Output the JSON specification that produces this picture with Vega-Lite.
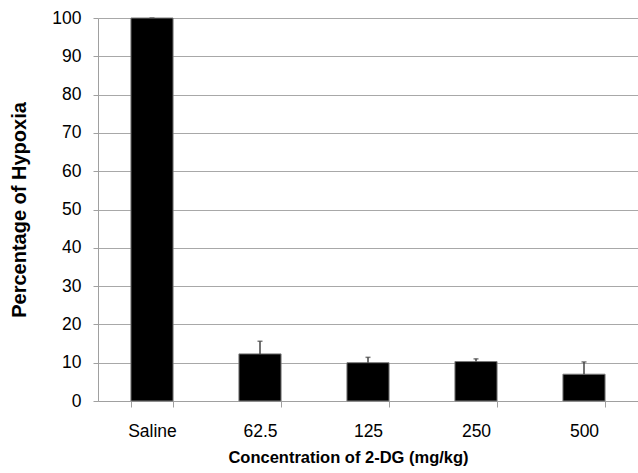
{
  "$schema": "https://vega.github.io/schema/vega-lite/v6.json",
  "autosize": "none",
  "width": 540,
  "height": 383,
  "padding": {"left": 98, "top": 18, "right": 0, "bottom": 72},
  "background": "white",
  "config": {
    "font": "Liberation Sans",
    "view": {"stroke": null},
    "axisY": {
      "titleFont": "Liberation Sans", "titleFontSize": 20, "titleFontWeight": "bold", "titleColor": "#000",
      "titlePadding": 22,
      "tickCount": 11,
      "labelOverlap": false,
      "labelFont": "Liberation Sans", "labelFontSize": 17.5, "labelColor": "#000", "labelPadding": 12,
      "domainColor": "#a0a0a0", "tickColor": "#a0a0a0", "tickSize": 5,
      "grid": true, "gridColor": "#a8a8a8", "gridWidth": 1
    }
  },
  "data": {
    "values": [
      {"conc": "Saline", "pct": 100, "err": 100},
      {"conc": "62.5", "pct": 12.3, "err": 15.6},
      {"conc": "125", "pct": 10.0, "err": 11.4},
      {"conc": "250", "pct": 10.3, "err": 11.0},
      {"conc": "500", "pct": 7.0, "err": 10.2}
    ]
  },
  "encoding": {
    "x": {
      "field": "conc", "type": "nominal", "sort": null,
      "scale": {"paddingInner": 0.61, "paddingOuter": 0.305},
      "axis": {
        "title": "Concentration of 2-DG (mg/kg)",
        "titleFont": "Liberation Sans", "titleFontSize": 16.5, "titleFontWeight": "bold", "titleColor": "#000",
        "titlePadding": 10, "titleX": 250,
        "labelFont": "Liberation Sans", "labelFontSize": 17.5, "labelColor": "#000", "labelPadding": 15, "labelAngle": 0,
        "domainColor": "#a0a0a0", "tickColor": "#a0a0a0", "tickBand": "extent", "tickSize": 6, "grid": false
      }
    },
    "y": {
      "field": "pct", "type": "quantitative",
      "scale": {"domain": [0, 100], "nice": false},
      "axis": {"title": "Percentage of Hypoxia", "values": [0, 10, 20, 30, 40, 50, 60, 70, 80, 90, 100]}
    }
  },
  "layer": [
    {
      "mark": {"type": "bar", "color": "#000", "stroke": "#7a7a7a", "strokeWidth": 1}
    },
    {
      "mark": {"type": "rule", "color": "#444", "strokeWidth": 1.5},
      "encoding": {
        "y2": {"field": "err"}
      }
    },
    {
      "mark": {"type": "tick", "color": "#444", "thickness": 1.5, "size": 5},
      "encoding": {
        "y": {"field": "err", "type": "quantitative",
              "axis": {"title": "Percentage of Hypoxia", "values": [0, 10, 20, 30, 40, 50, 60, 70, 80, 90, 100]}}
      }
    }
  ]
}
